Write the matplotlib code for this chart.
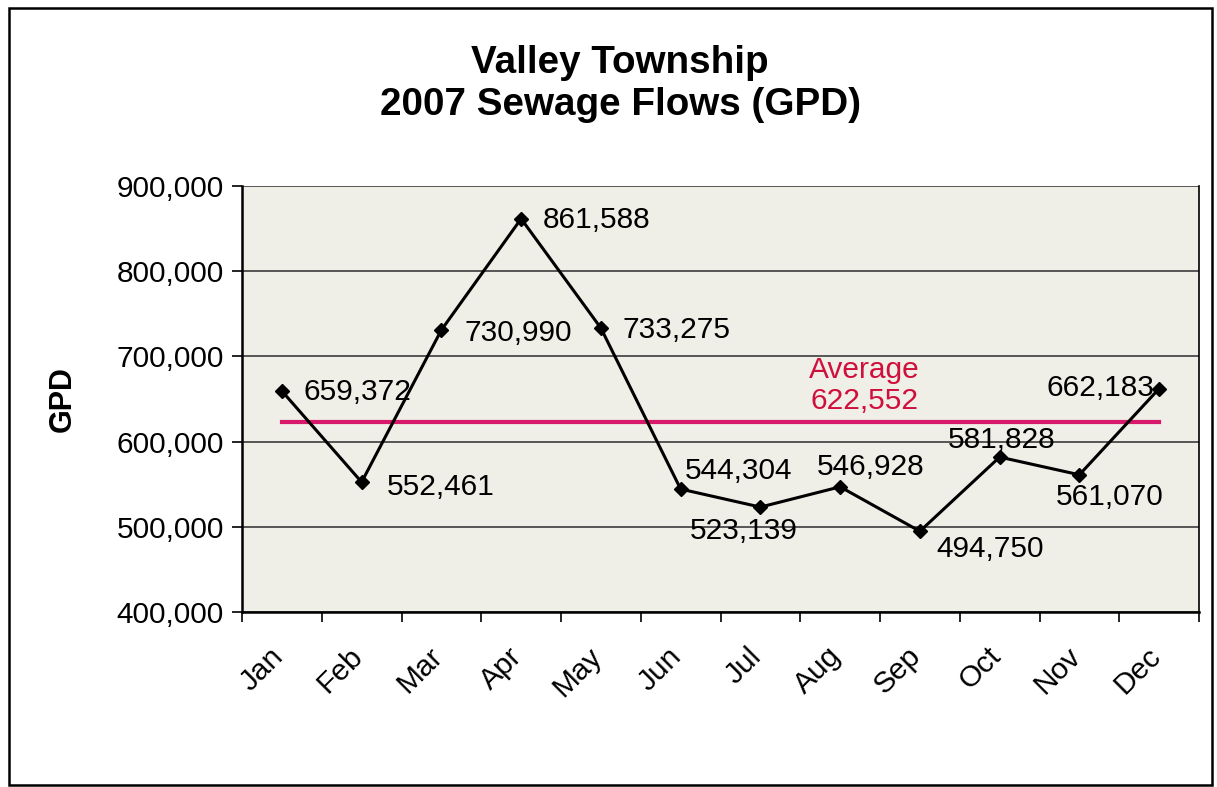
import matplotlib
matplotlib.use('Agg')
import matplotlib.pyplot as plt
from matplotlib.patches import Rectangle
from matplotlib.ticker import FuncFormatter, MultipleLocator

plt.rcParams['font.family'] = ['Liberation Sans', 'DejaVu Sans']

months = ['Jan', 'Feb', 'Mar', 'Apr', 'May', 'Jun', 'Jul', 'Aug', 'Sep', 'Oct', 'Nov', 'Dec']
flows = [659372, 552461, 730990, 861588, 733275, 544304, 523139, 546928, 494750, 581828, 561070, 662183]
average = 622552

# label placement (pixel offsets from the point, alignment)
lab_pos = [(22, -1, 'left'), (25, -5, 'left'), (23, -3, 'left'), (22, -1, 'left'),
           (22, -2, 'left'), (4, 18, 'left'), (-17, -24, 'center'), (30, 20, 'center'),
           (16, -18, 'left'), (2, 17, 'center'), (30, -22, 'center'), (-5, 1, 'right')]

fig = plt.figure(figsize=(12.17, 7.87), dpi=100)
fig.patches.append(Rectangle((9 / 1217, 1 - 785 / 787), 1203 / 1217, 777 / 787,
                             transform=fig.transFigure, fill=False, ec='black', lw=1.8))
ax = fig.add_axes([242 / 1217, 1 - 612 / 787, 957 / 1217, 426 / 787])
ax.set_facecolor('#EFEEE7')

x = list(range(len(months)))
ax.plot(x, [average] * len(x), color='#D8196B', lw=3, zorder=2)
ax.plot(x, flows, color='black', lw=2.2, marker='D', ms=7.5, zorder=3)

for i, v in enumerate(flows):
    dx, dy, ha = lab_pos[i]
    ax.annotate(f'{v:,}', (i, v), xytext=(dx, dy), textcoords='offset pixels',
                ha=ha, va='center', fontsize=21.5, color='black', zorder=4)

ax.text(7.3, average + 43500, f'Average\n{average:,}', ha='center', va='center',
        fontsize=21.5, color='#D0103C', linespacing=1.15)

ax.set_xlim(-0.5, len(months) - 0.5)
ax.set_ylim(400000, 900000)
ax.yaxis.set_major_locator(MultipleLocator(100000))
ax.yaxis.set_major_formatter(FuncFormatter(lambda v, p: f'{int(v):,}'))
ax.grid(axis='y', color='#4A4A4A', lw=1.3)
ax.set_axisbelow(True)

# category boundaries carry the tick marks, month names sit between them
ax.set_xticks([i - 0.5 for i in range(len(months) + 1)])
ax.set_xticklabels([])
for i, m in enumerate(months):
    ax.annotate(m, (i, 0), xycoords=('data', 'axes fraction'), xytext=(-13, -30),
                textcoords='offset pixels', rotation=45, ha='right', va='top',
                rotation_mode='anchor', fontsize=21.5, annotation_clip=False)
ax.tick_params(axis='x', which='major', length=7, width=1.2, direction='out')
ax.tick_params(axis='y', length=7, width=1.2, labelsize=21.5, pad=6)

for s in ['top', 'right']:
    ax.spines[s].set_visible(False)
ax.spines['left'].set_linewidth(1.8)
ax.spines['bottom'].set_linewidth(1.8)
ax.plot([1, 1], [0, 1], transform=ax.transAxes, color='black', lw=1.2, clip_on=False)

ax.set_ylabel('GPD', fontsize=22, fontweight='bold', labelpad=28)
fig.text(620 / 1217, 1 - 84 / 787, 'Valley Township\n2007 Sewage Flows (GPD)', ha='center',
         va='center', fontsize=27.8, fontweight='bold', linespacing=1.2)

fig.savefig('out.png', dpi=100)
